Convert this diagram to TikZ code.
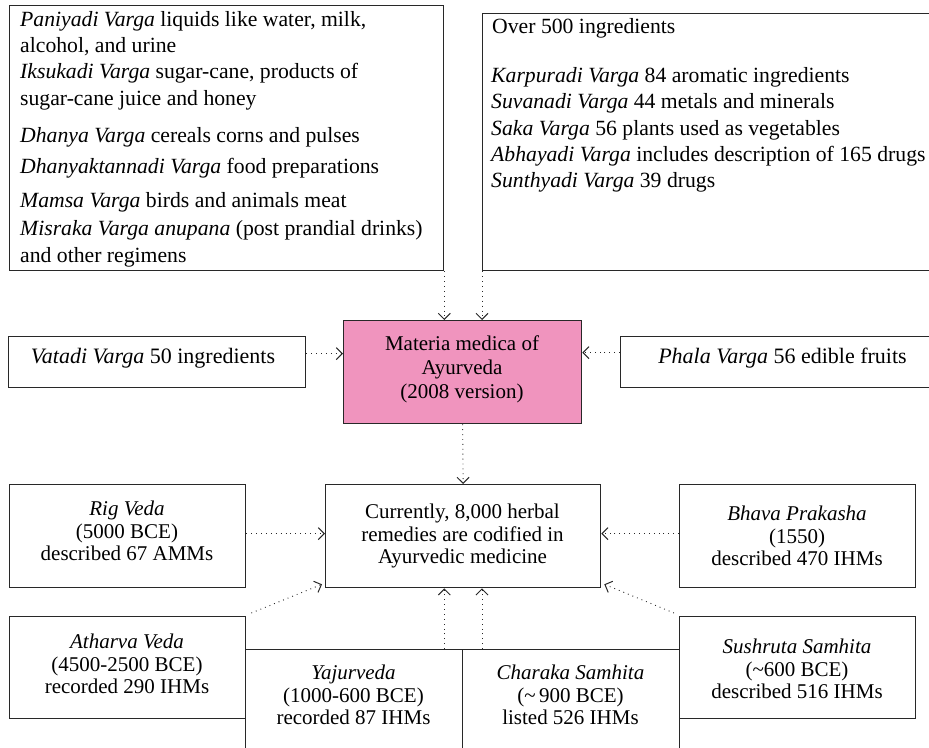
\documentclass[tikz,border=0pt]{standalone}
\usepackage{fontspec}
\setmainfont{Liberation Serif}
\usetikzlibrary{arrows.meta}
\definecolor{pinkfill}{RGB}{240,148,190}
\definecolor{edge}{RGB}{40,40,40}
\begin{document}
\begin{tikzpicture}[x=1pt,y=-1pt,
  box/.style={draw=edge,line width=1.3pt,rectangle,inner sep=0pt,anchor=north west},
  txt/.style={font=\fontsize{21}{22.5}\selectfont,align=center,inner sep=0pt},
  ltxt/.style={font=\fontsize{21.7}{26}\selectfont,anchor=base west,inner sep=0pt},
  link/.style={draw=edge,line width=0.9pt,dash pattern=on 0.9pt off 4pt,
    -{Straight Barb[length=6pt,width=12pt,line width=1pt]}}]
\useasboundingbox (0,0) rectangle (929,747);
\clip (0,0) rectangle (929,747);
% top boxes
\node[box,minimum width=434pt,minimum height=265pt] (tl) at (9,5) {};
\node[box,minimum width=463pt,minimum height=257pt] (tr) at (482,13) {};
\node[ltxt] (tl1) at (20,26) {\textit{Paniyadi Varga} liquids like water, milk,};
\node[ltxt] (tl2) at (20,52) {alcohol, and urine};
\node[ltxt] (tl3) at (20,78) {\textit{Iksukadi Varga} sugar-cane, products of};
\node[ltxt] (tl4) at (20,105) {sugar-cane juice and honey};
\node[ltxt] (tl5) at (20,142) {\textit{Dhanya Varga} cereals corns and pulses};
\node[ltxt] (tl6) at (20,173) {\textit{Dhanyaktannadi Varga} food preparations};
\node[ltxt] (tl7) at (20,207) {\textit{Mamsa Varga} birds and animals meat};
\node[ltxt] (tl8) at (20,235) {\textit{Misraka Varga anupana} (post prandial drinks)};
\node[ltxt] (tl9) at (20,262) {and other regimens};
\node[ltxt] (tr1) at (492,33) {Over 500 ingredients};
\node[ltxt] (tr2) at (491,82) {\textit{Karpuradi Varga} 84 aromatic ingredients};
\node[ltxt] (tr3) at (491,108) {\textit{Suvanadi Varga} 44 metals and minerals};
\node[ltxt] (tr4) at (491,135) {\textit{Saka Varga} 56 plants used as vegetables};
\node[ltxt] (tr5) at (491,161) {\textit{Abhayadi Varga} includes description of 165 drugs};
\node[ltxt] (tr6) at (491,187) {\textit{Sunthyadi Varga} 39 drugs};
% middle row
\node[box,fill=pinkfill,minimum width=238pt,minimum height=103pt] (pink) at (343,320) {};
\node[txt,font=\fontsize{21}{24}\selectfont] (pinkt) at (462,369) {Materia medica of\\Ayurveda\\(2008 version)};
\node[box,minimum width=297pt,minimum height=51pt] (vat) at (8,336) {};
\node[txt,font=\fontsize{22}{24}\selectfont] (vatt) at (153,358) {\textit{Vatadi Varga} 50 ingredients};
\node[box,minimum width=325pt,minimum height=51pt] (pha) at (620,336) {};
\node[txt,font=\fontsize{22}{24}\selectfont] (phat) at (782.5,358) {\textit{Phala Varga} 56 edible fruits};
% lower rows
\node[box,minimum width=275pt,minimum height=103pt] (cur) at (325,484) {};
\node[txt] (curt) at (462.5,536) {Currently, 8,000 herbal\\remedies are codified in\\Ayurvedic medicine};
\node[box,minimum width=236pt,minimum height=103pt] (rig) at (9,484) {};
\node[txt] (rigt) at (127,531) {\textit{Rig Veda}\\(5000 BCE)\\described 67 AMMs};
\node[box,minimum width=236pt,minimum height=103pt] (bha) at (679,484) {};
\node[txt] (bhat) at (797,536) {\textit{Bhava Prakasha}\\(1550)\\described 470 IHMs};
\node[box,minimum width=236pt,minimum height=102pt] (ath) at (9,616) {};
\node[txt] (atht) at (127,664) {\textit{Atharva Veda}\\(4500-2500 BCE)\\recorded 290 IHMs};
\node[box,minimum width=236pt,minimum height=102pt] (sus) at (679,616) {};
\node[txt] (sust) at (797,669) {\textit{Sushruta Samhita}\\(\textasciitilde600 BCE)\\described 516 IHMs};
\node[box,minimum width=217pt,minimum height=120pt] (yaj) at (245,649) {};
\node[txt] (yajt) at (353.5,695) {\textit{Yajurveda}\\(1000-600 BCE)\\recorded 87 IHMs};
\node[box,minimum width=217pt,minimum height=120pt] (cha) at (462,649) {};
\node[txt] (chat) at (570.5,695) {\textit{Charaka Samhita}\\(\textasciitilde\,900 BCE)\\listed 526 IHMs};
% connectors
\draw[link] (tl.south east) -- (tl.south east |- pink.north);
\draw[link] (tr.south west) -- (tr.south west |- pink.north);
\draw[link] ([yshift=8.5pt]vat.east) -- ([yshift=8.5pt]vat.east -| pink.west);
\draw[link] ([yshift=9.5pt]pha.west) -- ([yshift=9.5pt]pha.west -| pink.east);
\draw[link] (pink.south) -- (cur.north);
\draw[link] ([yshift=2.5pt]rig.east) -- ([yshift=2.5pt]rig.east -| cur.west);
\draw[link] ([yshift=2.5pt]bha.west) -- ([yshift=2.5pt]bha.west -| cur.east);
\draw[link] ([shift={(5pt,3pt)}]ath.north east) -- ([shift={(-3pt,4pt)}]cur.south west);
\draw[link] ([shift={(-5pt,3pt)}]sus.north west) -- ([shift={(3pt,4pt)}]cur.south east);
\draw[link] ([xshift=-19pt]yaj.north east) -- ([xshift=-19pt]yaj.north east |- cur.south);
\draw[link] ([xshift=20pt]cha.north west) -- ([xshift=20pt]cha.north west |- cur.south);
\end{tikzpicture}
\end{document}
